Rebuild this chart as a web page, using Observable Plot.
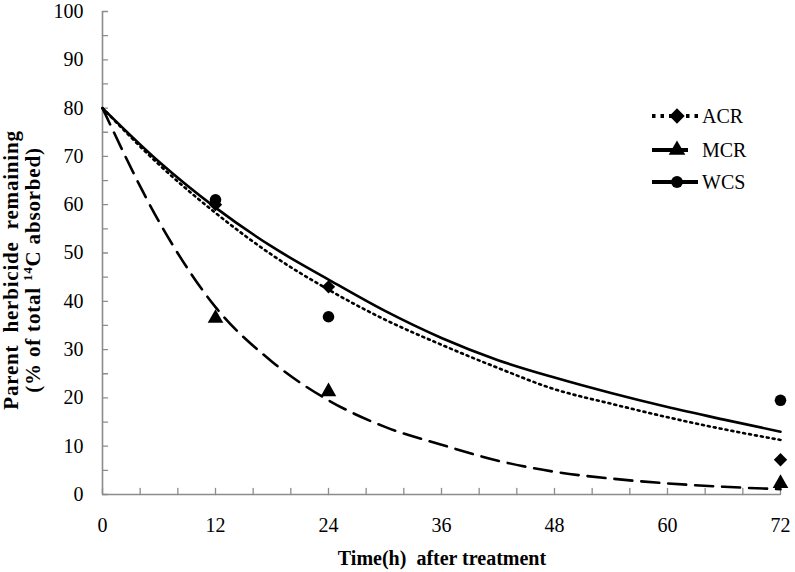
<!DOCTYPE html>
<html>
<head>
<meta charset="utf-8">
<script src="https://cdn.jsdelivr.net/npm/d3@7"></script>
<script src="https://cdn.jsdelivr.net/npm/@observablehq/plot@0.6"></script>
<style>
  html, body { margin: 0; padding: 0; background: #fff; }
</style>
</head>
<body>
<div id="chart"></div>
<script>
// ---- data ----
const seriesNames = ["ACR", "MCR", "WCS"];

// fitted curves (read at 6 h steps)
const fitTimes = [0, 6, 12, 18, 24, 30, 36, 42, 48, 54, 60, 66, 72];
const acrFit = [80, 68.3, 58.3, 49.6, 42.4, 36.2, 31.0, 26.2, 21.8, 18.8, 16.0, 13.5, 11.3];
const mcrFit = [80, 56.5, 38.8, 27.5, 19.5, 14.0, 10.3, 7.0, 4.7, 3.3, 2.3, 1.6, 1.1];
const wcsFit = [80, 68.9, 59.4, 51.3, 44.5, 38.0, 32.4, 27.8, 24.2, 21.0, 18.1, 15.5, 13.0];

// observed points
const obsTimes = [12, 24, 72];
const acrObs = [60, 43, 7.2];
const mcrObs = [36.5, 21.3, 2.3];
const wcsObs = [61, 36.8, 19.5];

// axis ticks
const xTickLabels = [0, 12, 24, 36, 48, 60, 72];
const xMinorTicks = d3.range(0, 73, 4);
const yTickLabels = [0, 10, 20, 30, 40, 50, 60, 70, 80, 90, 100];
const yMinorTicks = d3.range(0, 101, 5);

// ---- build tables ----
const fitTable = (vals) => fitTimes.map((t, i) => ({t, v: vals[i]}));
const obsTable = (vals) => obsTimes.map((t, i) => ({t, v: vals[i]}));

const axisGray = "#8c8c8c";
const serif = "Liberation Serif, serif";
const tickShape = {draw(context, l) { context.moveTo(0, 0); context.lineTo(0, -l); }};

const plot = Plot.plot({
  width: 795,
  height: 572,
  marginLeft: 102,
  marginRight: 15,
  marginTop: 11,
  marginBottom: 78,
  style: {fontFamily: serif, fontSize: "20px", color: "#000", background: "#fff", overflow: "visible"},
  x: {domain: [0, 72], label: null},
  y: {domain: [0, 100], label: null},
  marks: [
    Plot.axisY(yTickLabels, {tickSize: 0, tickPadding: 19, fontSize: 20, fontFamily: serif, label: null}),
    Plot.axisX(xTickLabels, {tickSize: 0, tickPadding: 23, fontSize: 20, fontFamily: serif, label: null}),
    Plot.ruleX([0], {stroke: axisGray, strokeWidth: 1.6}),
    Plot.ruleY([0], {stroke: axisGray, strokeWidth: 1.6}),
    Plot.vector(yMinorTicks, {x: 0, y: d => d, length: 5, rotate: 90, anchor: "start", shape: tickShape, stroke: axisGray, strokeWidth: 1.3}),
    Plot.vector(xMinorTicks, {x: d => d, y: 0, length: 6, rotate: 0, anchor: "start", shape: tickShape, stroke: axisGray, strokeWidth: 1.3}),
    // fitted curves
    Plot.line(fitTable(wcsFit), {x: "t", y: "v", curve: "monotone-x", stroke: "#000", strokeWidth: 2.6}),
    Plot.line(fitTable(acrFit), {x: "t", y: "v", curve: "monotone-x", stroke: "#000", strokeWidth: 2.6, strokeDasharray: "2,4"}),
    Plot.line(fitTable(mcrFit), {x: "t", y: "v", curve: "monotone-x", stroke: "#000", strokeWidth: 2.6, strokeDasharray: "18,9"}),
    // observed
    Plot.dot(obsTable(acrObs), {x: "t", y: "v", symbol: "diamond2", r: 6, fill: "#000"}),
    Plot.dot(obsTable(mcrObs), {x: "t", y: "v", symbol: "triangle", r: 5.8, fill: "#000"}),
    Plot.dot(obsTable(wcsObs), {x: "t", y: "v", symbol: "circle", r: 5.8, fill: "#000"})
  ]
});

document.getElementById("chart").appendChild(plot);

// ---- titles and legend drawn into the SVG ----
const svg = d3.select(plot);

svg.append("text")
  .attr("x", 442).attr("y", 565)
  .attr("text-anchor", "middle")
  .attr("font-family", serif).attr("font-weight", "bold").attr("font-size", 20)
  .attr("fill", "#000")
  .text("Time(h)  after treatment");

const yTitle = svg.append("text")
  .attr("transform", "translate(0,270) rotate(-90)")
  .attr("text-anchor", "middle")
  .attr("font-family", serif).attr("font-weight", "bold").attr("font-size", 21)
  .attr("letter-spacing", 0.8)
  .attr("fill", "#000")
  .style("white-space", "pre");
yTitle.append("tspan").attr("x", 0).attr("y", 18).text("Parent  herbicide  remaining");
const l2 = yTitle.append("tspan").attr("x", 0).attr("y", 40);
l2.append("tspan").text("(% of total ");
l2.append("tspan").attr("font-size", 13).attr("dy", -8).text("14");
l2.append("tspan").attr("dy", 8).text("C absorbed)");

const legend = svg.append("g")
  .attr("font-family", serif).attr("font-size", 20).attr("text-anchor", "start");
const legendItems = [
  {name: seriesNames[0], y: 116, x1: 652, x2: 698, dash: "3.5,5", symbol: d3.symbolDiamond2, size: 150},
  {name: seriesNames[1], y: 150, x1: 652, x2: 688, dash: null, symbol: d3.symbolTriangle, size: 120},
  {name: seriesNames[2], y: 182, x1: 652, x2: 698, dash: null, symbol: d3.symbolCircle, size: 110}
];
for (const it of legendItems) {
  const line = legend.append("line")
    .attr("x1", it.x1).attr("x2", it.x2).attr("y1", it.y).attr("y2", it.y)
    .attr("stroke", "#000").attr("stroke-width", 4.2);
  if (it.dash) line.attr("stroke-dasharray", it.dash);
  legend.append("path")
    .attr("d", d3.symbol(it.symbol, it.size)())
    .attr("transform", `translate(677,${it.y})`)
    .attr("fill", "#000");
  legend.append("text")
    .attr("x", 702).attr("y", it.y + 7)
    .attr("text-anchor", "start")
    .attr("fill", "#000")
    .text(it.name);
}
</script>
</body>
</html>
